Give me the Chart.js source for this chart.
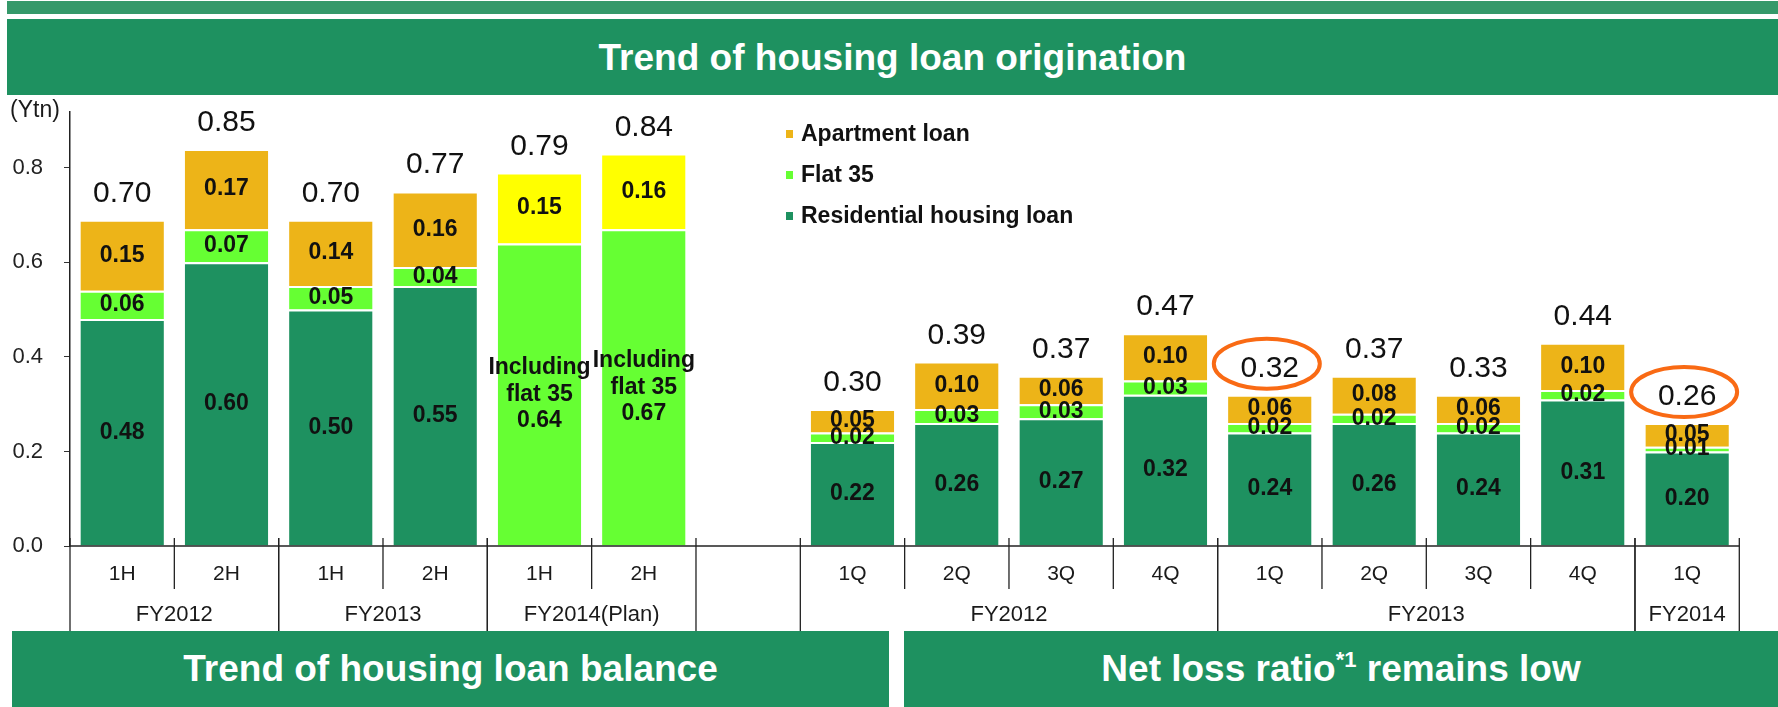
<!DOCTYPE html>
<html>
<head>
<meta charset="utf-8">
<script src="https://cdn.jsdelivr.net/npm/chart.js@4.4.0/dist/chart.umd.min.js"></script>
<style>
  body { margin:0; width:1778px; height:707px; background:#fff; overflow:hidden; position:relative; font-family:"Liberation Sans", Arial, sans-serif; }
  #chart { position:absolute; left:0; top:0; }
  .strip { position:absolute; left:7px; top:1px; width:1771px; height:13px; background:#35996a; }
  .band { position:absolute; background:#1e9160; color:#fff; font-weight:bold; font-size:37px; text-align:center; line-height:76px; height:76px; z-index:2; }
  .band sup { font-size:22px; vertical-align:baseline; position:relative; top:-14px; }
  #legend { position:absolute; left:786px; top:113px; z-index:2; }
  #legend div { height:41px; display:flex; align-items:center; font-weight:bold; font-size:23px; color:#111; }
  #legend span { display:inline-block; width:7px; height:8px; margin-right:8px; }
</style>
</head>
<body>
<div class="strip"></div>
<div class="band" style="left:7px; top:19px; width:1771px; padding-top:1px; height:75px;">Trend of housing loan origination</div>
<canvas id="chart" width="1778" height="707"></canvas>
<div id="legend"></div>
<div class="band" style="left:12px; top:631px; width:877px;">Trend of housing loan balance</div>
<div class="band" style="left:904px; top:631px; width:874px;">Net loss ratio<sup>*1</sup> remains low</div>
<script>
const categories = ['1H','2H','1H','2H','1H','2H','','1Q','2Q','3Q','4Q','1Q','2Q','3Q','4Q','1Q'];
const groupLabels = ['FY2012','FY2013','FY2014(Plan)','FY2012','FY2013','FY2014'];
const groupStart = [0,2,4,7,11,15];
const groupEnd = [2,4,6,11,15,16];

const residential = [0.48,0.60,0.50,0.55,null,null,null,0.22,0.26,0.27,0.32,0.24,0.26,0.24,0.31,0.20];
const flat35 = [0.06,0.07,0.05,0.04,null,null,null,0.02,0.03,0.03,0.03,0.02,0.02,0.02,0.02,0.01];
const apartment = [0.15,0.17,0.14,0.16,null,null,null,0.05,0.10,0.06,0.10,0.06,0.08,0.06,0.10,0.05];
const planFlat35 = [null,null,null,null,0.64,0.67,null,null,null,null,null,null,null,null,null,null];
const planApartment = [null,null,null,null,0.15,0.16,null,null,null,null,null,null,null,null,null,null];
const totals = [0.70,0.85,0.70,0.77,0.79,0.84,null,0.30,0.39,0.37,0.47,0.32,0.37,0.33,0.44,0.26];
const circled = [11,15];
const yTicks = [0,0.2,0.4,0.6,0.8];

const legendNames = ['Apartment loan','Flat 35','Residential housing loan'];
const legendColors = ['#edb418','#66ff33','#1e9160'];

const FONT = '"Liberation Sans", Arial, sans-serif';
Chart.defaults.font.family = FONT;

function serie(label, values, color, multiline) {
  return {
    label: label, data: values, backgroundColor: color,
    borderColor: '#fff', borderWidth: {top:2, left:0, right:0, bottom:0}, borderSkipped: false,
    barPercentage: 0.8, categoryPercentage: 1, multiline: multiline
  };
}

const legend = document.getElementById('legend');
legendNames.forEach((n, i) => {
  const row = document.createElement('div');
  row.innerHTML = `<span style="background:${legendColors[i]}"></span>${n}`;
  legend.appendChild(row);
});

const decorations = {
  id: 'decorations',
  afterDatasetsDraw(chart) {
    const ctx = chart.ctx;
    const area = chart.chartArea;
    const xs = chart.scales.x;
    const base = chart.scales.y.getPixelForValue(0);
    const w = (area.right - area.left) / categories.length;
    ctx.save();

    ctx.fillStyle = '#111';
    ctx.textAlign = 'center';
    ctx.textBaseline = 'middle';
    ctx.font = 'bold 23px ' + FONT;
    chart.data.datasets.forEach((ds, di) => {
      chart.getDatasetMeta(di).data.forEach((bar, i) => {
        const v = ds.data[i];
        if (v == null) return;
        const cy = (bar.y + bar.base) / 2;
        if (ds.multiline) {
          ctx.fillText('Including', bar.x, cy - 26.5);
          ctx.fillText('flat 35', bar.x, cy);
          ctx.fillText(v.toFixed(2), bar.x, cy + 26.5);
        } else {
          ctx.fillText(v.toFixed(2), bar.x, cy);
        }
      });
    });

    ctx.font = '30px ' + FONT;
    ctx.textBaseline = 'alphabetic';
    totals.forEach((t, i) => {
      if (t == null) return;
      let top = base;
      chart.data.datasets.forEach((ds, di) => {
        if (ds.data[i] != null) top = Math.min(top, chart.getDatasetMeta(di).data[i].y);
      });
      const cx = xs.getPixelForValue(i);
      const by = top - 18;
      ctx.fillStyle = '#111';
      ctx.fillText(t.toFixed(2), cx, by);
      if (circled.includes(i)) {
        ctx.strokeStyle = '#f96a14';
        ctx.lineWidth = 4;
        ctx.beginPath();
        ctx.ellipse(cx - 3, by - 13, 53, 25, 0, 0, Math.PI * 2);
        ctx.stroke();
      }
    });

    ctx.strokeStyle = '#222';
    ctx.lineWidth = 1.5;
    ctx.beginPath();
    ctx.moveTo(area.left, base);
    ctx.lineTo(area.right, base);
    ctx.stroke();

    ctx.lineWidth = 1.3;
    ctx.fillStyle = '#1a1a1a';
    ctx.textBaseline = 'middle';
    groupLabels.forEach((g, gi) => {
      for (let k = groupStart[gi]; k <= groupEnd[gi]; k++) {
        const lx = area.left + k * w;
        const long = k === groupStart[gi] || k === groupEnd[gi];
        ctx.beginPath();
        ctx.moveTo(lx, base - 8);
        ctx.lineTo(lx, base + (long ? 86 : 43));
        ctx.stroke();
      }
      for (let k = groupStart[gi]; k < groupEnd[gi]; k++) {
        ctx.font = '21px ' + FONT;
        ctx.fillText(categories[k], xs.getPixelForValue(k), base + 28);
      }
      ctx.font = '22px ' + FONT;
      ctx.fillText(g, area.left + (groupStart[gi] + groupEnd[gi]) / 2 * w, base + 69);
    });

    ctx.textAlign = 'left';
    ctx.font = '23px ' + FONT;
    ctx.fillText('(Ytn)', 10, 111);
    ctx.restore();
  }
};

new Chart(document.getElementById('chart'), {
  type: 'bar',
  data: {
    labels: categories,
    datasets: [
      serie('Residential housing loan', residential, '#1e9160'),
      serie('Flat 35', flat35, '#66ff33'),
      serie('Apartment loan', apartment, '#edb418'),
      serie('Flat 35 (plan)', planFlat35, '#66ff33', true),
      serie('Apartment loan (plan)', planApartment, '#ffff00')
    ]
  },
  options: {
    responsive: false,
    animation: false,
    layout: { padding: { top: 112, bottom: 161, left: 0, right: 38.7 } },
    plugins: { legend: { display: false }, tooltip: { enabled: false } },
    scales: {
      x: { stacked: true, display: false },
      y: {
        stacked: true, min: 0, max: 0.918,
        afterBuildTicks: s => { s.ticks = yTicks.map(v => ({ value: v })); },
        afterFit: s => { s.width = 70; },
        grid: { drawOnChartArea: false, drawTicks: true, tickLength: 6, color: '#333' },
        border: { display: true, color: '#222', width: 1.5 },
        ticks: { padding: 21, color: '#222', font: { size: 22 }, callback: v => v.toFixed(1) }
      }
    }
  },
  plugins: [decorations]
});
</script>
</body>
</html>
